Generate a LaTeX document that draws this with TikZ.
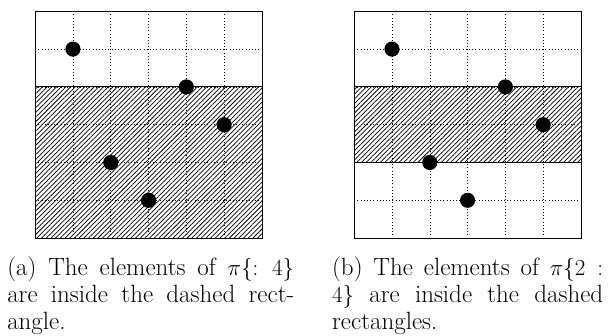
\documentclass[tikz,border=0pt]{standalone}
\usetikzlibrary{patterns.meta}
\tikzset{
  gridline/.style={dotted, line width=0.4pt},
  framebox/.style={line width=0.6pt},
  hatchfill/.style={pattern={Lines[angle=45,distance=2.5pt,line width=0.55pt]}},
  dotpt/.style={circle, fill=black, minimum size=0.4cm, inner sep=0pt},
  capt/.style={anchor=base west, inner sep=0pt, align=justify, font=\fontsize{18.8}{20.5}\selectfont}
}
\begin{document}
\begin{tikzpicture}
\useasboundingbox (0,0) rectangle (16.085,8.889);
% panel (a)
\begin{scope}[shift={(0.93,2.59)}]
  \draw[gridline] (0,0) grid (6,6);
  \fill[hatchfill] (0,0) rectangle (6,4);
  \draw[framebox] (0,0) rectangle (6,6);
  \draw[framebox] (0,4) -- (6,4);
  \node[dotpt] (a1) at (1,5) {};
  \node[dotpt] (a2) at (4,4) {};
  \node[dotpt] (a3) at (5,3) {};
  \node[dotpt] (a4) at (2,2) {};
  \node[dotpt] (a5) at (3,1) {};
\end{scope}
% panel (b)
\begin{scope}[shift={(9.37,2.59)}]
  \draw[gridline] (0,0) grid (6,6);
  \fill[hatchfill] (0,2) rectangle (6,4);
  \draw[framebox] (0,0) rectangle (6,6);
  \draw[framebox] (0,4) -- (6,4);
  \draw[framebox] (0,2) -- (6,2);
  \node[dotpt] (b1) at (1,5) {};
  \node[dotpt] (b2) at (4,4) {};
  \node[dotpt] (b3) at (5,3) {};
  \node[dotpt] (b4) at (2,2) {};
  \node[dotpt] (b5) at (3,1) {};
\end{scope}
% captions
\node[capt, text width=7.59cm] (capa) at (0.185,1.60)
  {(a) The elements of $\pi\{:4\}$\linebreak are inside the dashed rect-\linebreak angle.};
\node[capt, text width=7.17cm] (capb) at (8.78,1.60)
  {(b) The elements of $\pi\{2\mathrel{:}$\linebreak $4\}$ are inside the dashed\linebreak rectangles.};
\end{tikzpicture}
\end{document}
